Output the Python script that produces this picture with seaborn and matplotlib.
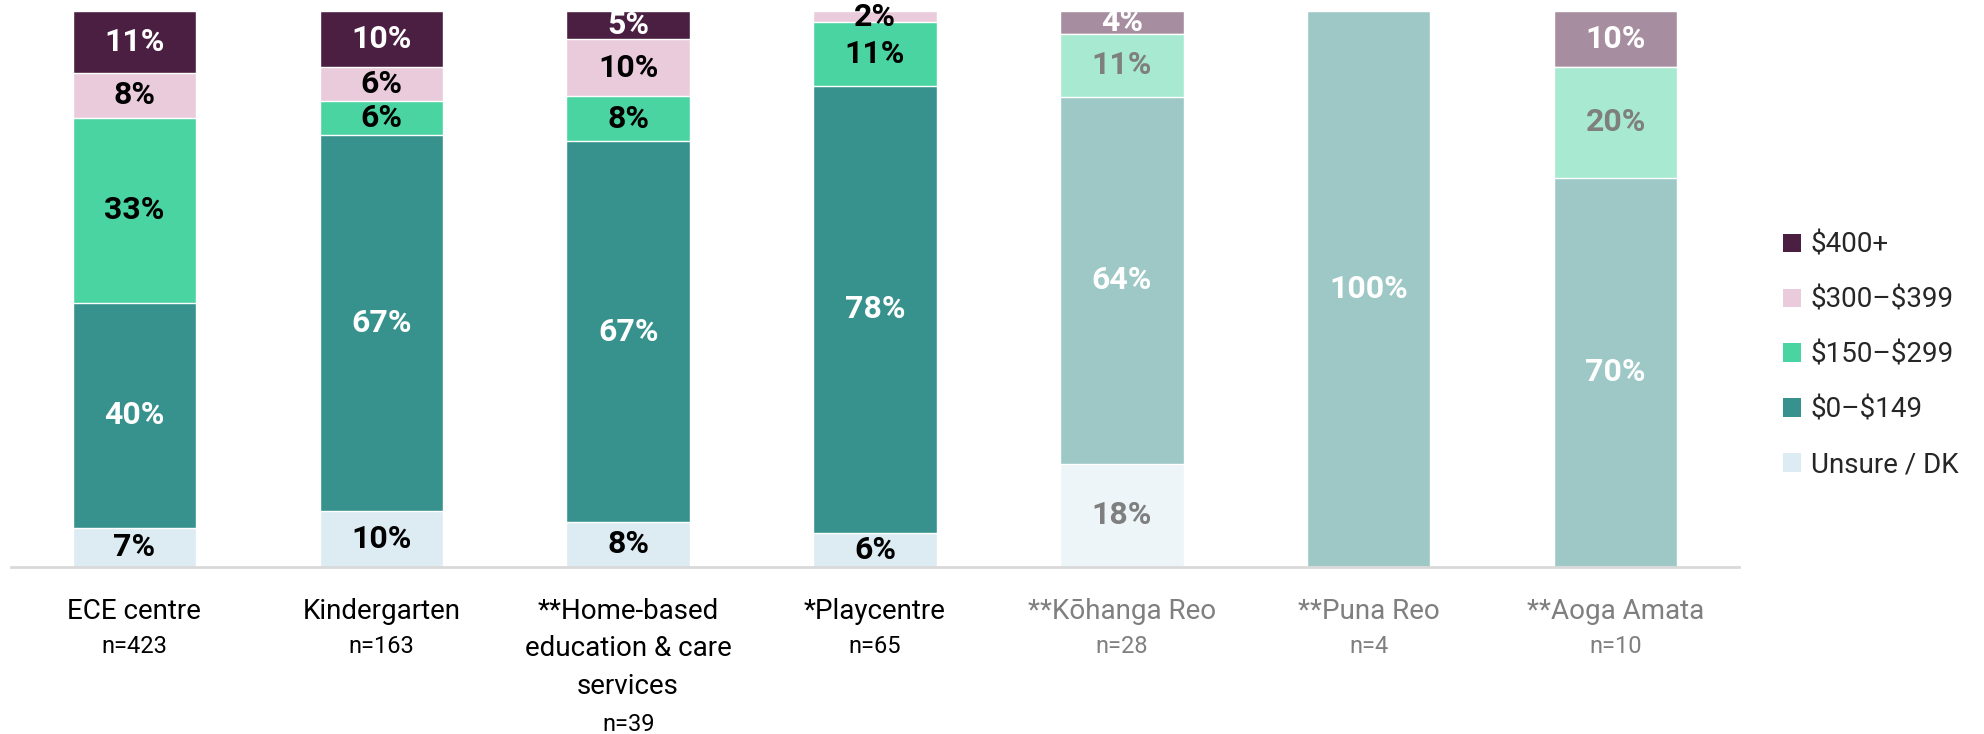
import pandas as pd
import seaborn as sns
import matplotlib.pyplot as plt
from matplotlib.patches import Patch

# Datos
categories = ["ECE centre", "Kindergarten", "**Home-based\neducation & care\nservices",
              "*Playcentre", "**Kōhanga Reo", "**Puna Reo", "**Aoga Amata"]
n_labels = ["n=423", "n=163", "n=39", "n=65", "n=28", "n=4", "n=10"]
faded = [False, False, False, False, True, True, True]

series = ["Unsure / DK", "$0–$149", "$150–$299", "$300–$399", "$400+"]
unsure = [7, 10, 8, 6, 18, 0, 0]
low = [40, 67, 67, 78, 64, 100, 70]
mid = [33, 6, 8, 11, 11, 0, 20]
high = [8, 6, 10, 2, 0, 0, 0]
top = [11, 10, 5, 0, 4, 0, 10]

colors = ["#DDECF3", "#37928D", "#4AD4A2", "#EACBDC", "#4B1F41"]
faded_colors = ["#EEF5F8", "#9DC8C5", "#A7E9D1", "#F4E5ED", "#A68EA0"]
text_colors = ["black", "white", "black", "black", "white"]
faded_text = ["#7F7F7F", "white", "#7F7F7F", "#7F7F7F", "white"]

sns.set_style("white")
plt.rcParams['font.family'] = ['Roboto', 'DejaVu Sans']

df = pd.DataFrame(dict(zip(series, [unsure, low, mid, high, top])), index=categories)
share = df.div(df.sum(axis=1), axis=0) * 100   # barras al 100%
cum = share.cumsum(axis=1)

fig = plt.figure(figsize=(19.84, 7.34), dpi=100)
ax = fig.add_axes([11 / 1984, 167 / 734, 1728 / 1984, 556 / 734])

# Barras apiladas: de la capa superior hacia abajo
for j in reversed(range(len(series))):
    s = series[j]
    pal = [faded_colors[j] if f else colors[j] for f in faded]
    sns.barplot(x=categories, y=cum[s].values, hue=categories, palette=pal,
                width=0.5, saturation=1, legend=False, ax=ax,
                edgecolor="white", linewidth=1)

# Etiquetas de porcentaje
for i, cat in enumerate(categories):
    for j, s in enumerate(series):
        v = df.loc[cat, s]
        if v > 0:
            y = cum.loc[cat, s] - share.loc[cat, s] / 2
            c = faded_text[j] if faded[i] else text_colors[j]
            ax.text(i, y, f"{v}%", ha="center", va="center", fontsize=23,
                    fontweight="bold", color=c)

ax.set_xlim(-0.5, 6.5)
ax.set_ylim(0, 100)
ax.set_xticks([])
ax.set_yticks([])
ax.set_xlabel("")
ax.set_ylabel("")
for sp in ["top", "right", "left"]:
    ax.spines[sp].set_visible(False)
ax.spines["bottom"].set_color("#D9D9D9")
ax.spines["bottom"].set_linewidth(2)

# Etiquetas del eje x con n=
for i, cat in enumerate(categories):
    c = "#7F7F7F" if faded[i] else "black"
    nlines = cat.count("\n") + 1
    ax.annotate(cat, xy=(i, 0), xycoords=("data", "axes fraction"),
                xytext=(0, -22), textcoords="offset points", ha="center", va="top",
                fontsize=20, color=c, linespacing=1.5)
    ax.annotate(n_labels[i], xy=(i, 0), xycoords=("data", "axes fraction"),
                xytext=(0, -49 - (nlines - 1) * 28), textcoords="offset points",
                ha="center", va="top", fontsize=17, color=c)

# Leyenda
handles = [Patch(facecolor=colors[j], edgecolor="none", label=series[j].replace("$", r"\$"))
           for j in reversed(range(len(series)))]
fig.legend(handles=handles, loc="center left", bbox_to_anchor=(1783 / 1984, 379 / 734),
           frameon=False, fontsize=20, handlelength=0.65, handleheight=0.65,
           handletextpad=0.35, labelspacing=1.0, borderpad=0, borderaxespad=0)

plt.savefig("out.png", dpi=100)
